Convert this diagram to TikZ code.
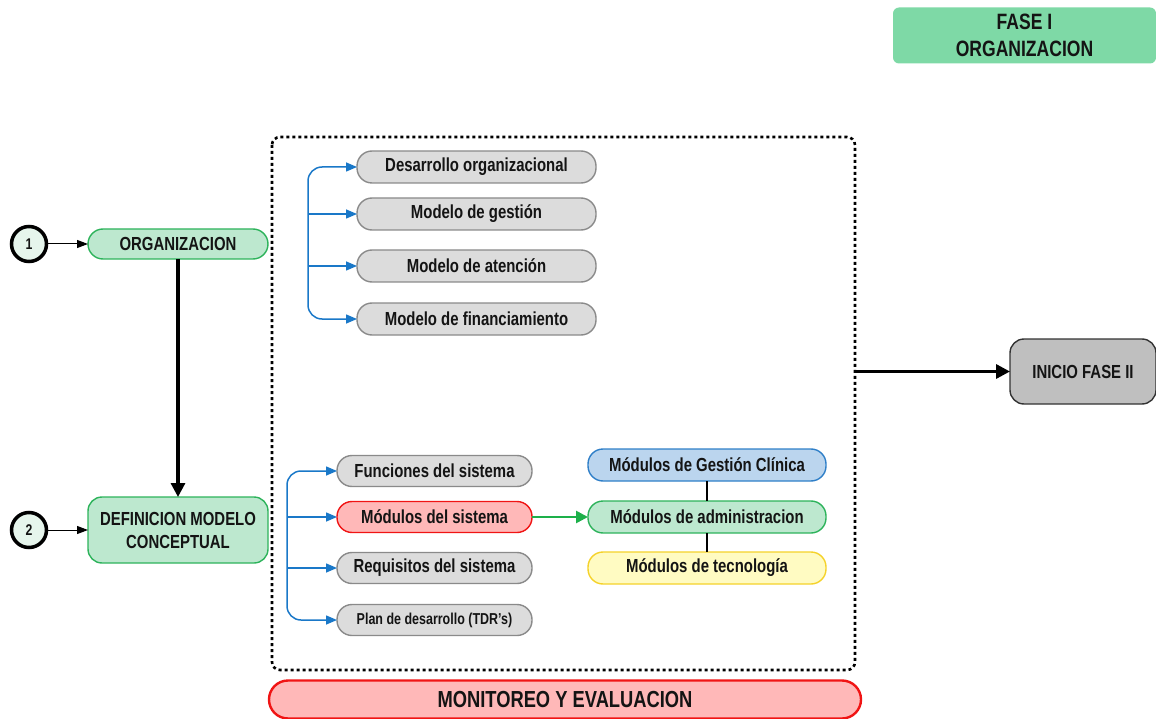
\documentclass[tikz,border=0pt]{standalone}
\usepackage{fontspec}
\setmainfont{Liberation Sans}[FakeStretch=0.79]
\usetikzlibrary{arrows.meta,calc}
\definecolor{grnfill}{HTML}{BDE8CF}
\definecolor{grnline}{HTML}{2DB35B}
\definecolor{fasefill}{HTML}{7ED9A6}
\definecolor{gryfill}{HTML}{DCDCDC}
\definecolor{gryline}{HTML}{8A8A8A}
\definecolor{redfill}{HTML}{FFB8B8}
\definecolor{redline}{HTML}{F01414}
\definecolor{blufill}{HTML}{BBD5EE}
\definecolor{bluline}{HTML}{2F7FC8}
\definecolor{yelfill}{HTML}{FFFBC2}
\definecolor{yelline}{HTML}{F5D22A}
\definecolor{inifill}{HTML}{BFBFBF}
\definecolor{brkblue}{HTML}{1A78C8}
\definecolor{arrgreen}{HTML}{1DB04A}
\definecolor{circfill}{HTML}{E6F5EC}
\tikzset{
  x=1pt, y=-1pt,
  every node/.style={font=\bfseries, text=black!92, outer sep=0pt, inner sep=0pt, align=center},
  pill/.style={draw, line width=1.4pt, rounded corners=15pt, minimum height=32pt},
  txt/.style={font=\bfseries\fontsize{18.9}{21}\selectfont},
  graypill/.style={pill, txt, fill=gryfill, draw=gryline, minimum width=239pt},
  graypill2/.style={pill, txt, fill=gryfill, draw=gryline, minimum width=195pt, minimum height=31pt},
  modpill/.style={pill, txt, minimum width=238pt},
  greenbox/.style={draw=grnline, fill=grnfill, line width=1.4pt, minimum width=180pt},
  numcirc/.style={circle, draw=black, line width=3.5pt, fill=circfill, minimum size=35pt, font=\bfseries\fontsize{15.5}{17}\selectfont},
  brk/.style={draw=brkblue, line width=1.5pt, -{Triangle[length=11pt,width=9pt]}},
  thinarr/.style={draw=black, line width=1pt, -{Triangle[length=11pt,width=8pt]}},
  thickarr/.style={draw=black, line width=3.2pt, -{Triangle[length=14pt,width=14pt]}},
}
\begin{document}
\begin{tikzpicture}
\useasboundingbox (0,0) rectangle (1156,719);

% phase label
\node[fill=fasefill, rounded corners=6pt, minimum width=263pt, minimum height=56pt,
      font=\bfseries\fontsize{22.2}{27}\selectfont] (fase) at (1024.5,35.5) {FASE I\\ORGANIZACION};

% dotted frame
\draw[line width=2.6pt, dash pattern=on 3pt off 3pt, rounded corners=8pt] (272,137) rectangle (855,670);
\coordinate (frameR) at (855,371.5);

% numbered entries
\node[numcirc] (c1) at (29,244) {1};
\node[numcirc] (c2) at (29,530) {2};
\node[greenbox, pill, txt, minimum height=30pt] (org) at (178,244) {ORGANIZACION};
\node[greenbox, rounded corners=14pt, minimum height=66pt, font=\bfseries\fontsize{18.9}{23}\selectfont] (def) at (178,530) {DEFINICION MODELO\\CONCEPTUAL};
\draw[thinarr] (c1) -- (org);
\draw[thinarr] (c2) -- (def);
\draw[thickarr] (org.south) -- (def.north);

% organizational models
\node[graypill] (d1) at (476.5,167) {Desarrollo organizacional};
\node[graypill] (d2) at (476.5,214) {Modelo de gestión};
\node[graypill] (d3) at (476.5,266) {Modelo de atención};
\node[graypill] (d4) at (476.5,319) {Modelo de financiamiento};
\coordinate (bx1) at (308,0);
\draw[brk, {Triangle[length=11pt,width=9pt]}-{Triangle[length=11pt,width=9pt]}, rounded corners=14pt]
  (d1.west) -- (d1.west -| bx1) -- (d4.west -| bx1) -- (d4.west);
\draw[brk] (d2.west -| bx1) -- (d2.west);
\draw[brk] (d3.west -| bx1) -- (d3.west);

% system definition
\node[graypill2] (s1) at (434.5,471) {Funciones del sistema};
\node[graypill2, fill=redfill, draw=redline] (s2) at (434.5,517) {Módulos del sistema};
\node[graypill2] (s3) at (434.5,568) {Requisitos del sistema};
\node[graypill2, font=\bfseries\fontsize{15.8}{18}\selectfont] (s4) at (434.5,620) {Plan de desarrollo (TDR’s)};
\coordinate (bx2) at (287,0);
\draw[brk, {Triangle[length=11pt,width=9pt]}-{Triangle[length=11pt,width=9pt]}, rounded corners=14pt]
  (s1.west) -- (s1.west -| bx2) -- (s4.west -| bx2) -- (s4.west);
\draw[brk] (s2.west -| bx2) -- (s2.west);
\draw[brk] (s3.west -| bx2) -- (s3.west);

% module families
\node[modpill, fill=blufill, draw=bluline] (m1) at (707,465) {Módulos de Gestión Clínica};
\node[modpill, fill=grnfill, draw=grnline] (m2) at (707,517) {Módulos de administracion};
\node[modpill, fill=yelfill, draw=yelline] (m3) at (707,568) {Módulos de tecnología};
\draw[line width=2.6pt] (m1) -- (m2);
\draw[line width=2.6pt] (m2) -- (m3);
\draw[draw=arrgreen, line width=2.6pt, -{Triangle[length=12pt,width=12pt]}] (s2.east) -- (m2.west);

% next phase
\node[draw=black!80, fill=inifill, line width=1.4pt, rounded corners=14pt, minimum width=146pt, minimum height=65pt,
      txt] (ini) at (1083,371.5) {INICIO FASE II};
\draw[thickarr] (frameR) -- (ini.west);

% monitoring bar
\node[draw=redline, fill=redfill, line width=2.4pt, rounded corners=19pt, minimum width=592pt, minimum height=38pt,
      font=\bfseries\fontsize{23.2}{25}\selectfont] (mon) at (565,699.5) {MONITOREO Y EVALUACION};
\end{tikzpicture}
\end{document}
